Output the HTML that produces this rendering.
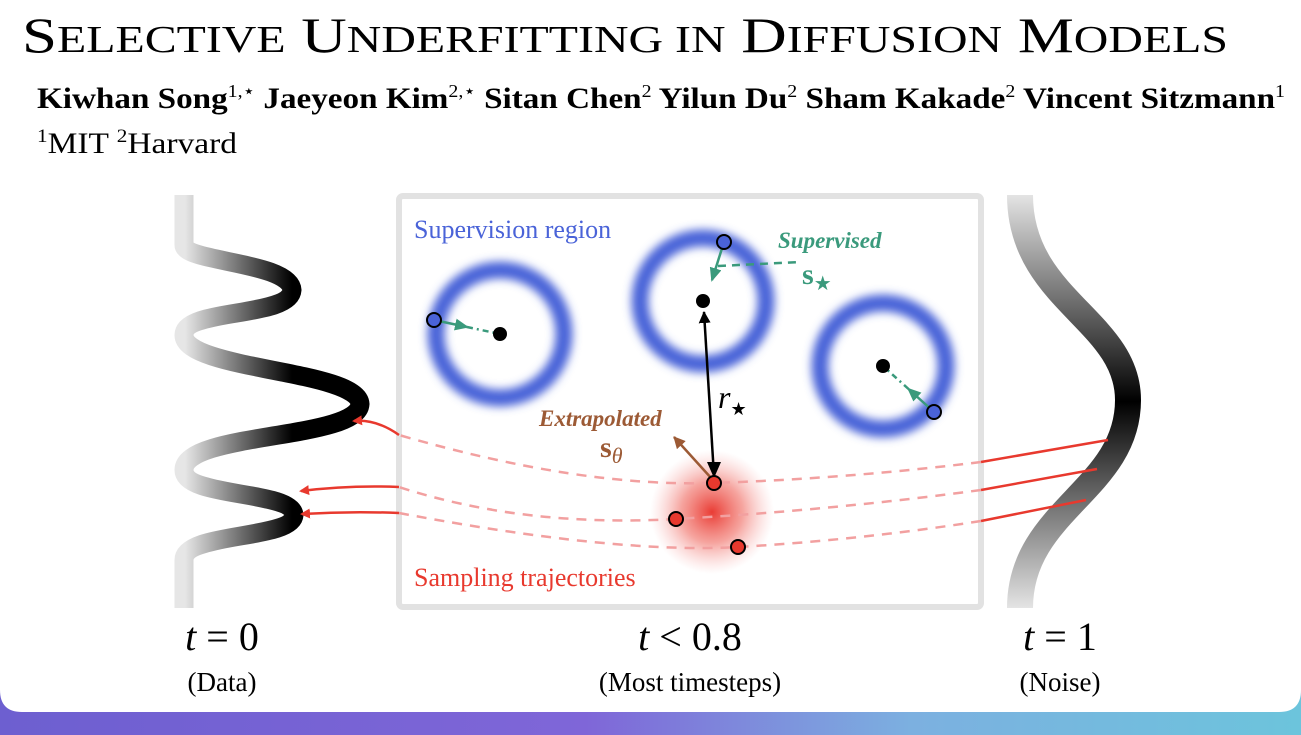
<!DOCTYPE html>
<html><head><meta charset="utf-8"><style>
html,body{margin:0;padding:0;width:1301px;height:735px;overflow:hidden;background:linear-gradient(90deg,#6d5fd0 0%,#7f66d8 45%,#7cb0e0 70%,#6cc4dc 100%);}
svg{display:block}
text{font-family:"Liberation Serif",serif}
</style></head><body>
<svg width="1301" height="735" viewBox="0 0 1301 735">
<defs>
 <filter id="blur" x="-30%" y="-30%" width="160%" height="160%"><feGaussianBlur stdDeviation="4.5"/></filter>
 <radialGradient id="redglow"><stop offset="0" stop-color="#e8322a" stop-opacity="0.95"/><stop offset="0.5" stop-color="#ee5a50" stop-opacity="0.55"/><stop offset="1" stop-color="#f6a0a0" stop-opacity="0"/></radialGradient>
 <linearGradient id="lgL" gradientUnits="userSpaceOnUse" x1="185" y1="0" x2="292" y2="0"><stop offset="0" stop-color="#e6e6e6"/><stop offset="1" stop-color="#000"/></linearGradient>
 <linearGradient id="lgR" gradientUnits="userSpaceOnUse" x1="0" y1="195" x2="0" y2="608"><stop offset="0" stop-color="#e4e4e4"/><stop offset="0.5" stop-color="#000"/><stop offset="1" stop-color="#e4e4e4"/></linearGradient>
 <marker id="aRed" markerWidth="10" markerHeight="10" refX="8" refY="5" orient="auto" markerUnits="userSpaceOnUse"><path d="M0,0 L10,5 L0,10 Z" fill="#e8392e"/></marker>
 <marker id="aGreen" markerWidth="14" markerHeight="12" refX="12" refY="6" orient="auto" markerUnits="userSpaceOnUse"><path d="M0,0 L14,6 L0,12 Z" fill="#3a9a7c"/></marker>
 <marker id="aBlack" markerWidth="12" markerHeight="12" refX="11" refY="6" orient="auto" markerUnits="userSpaceOnUse"><path d="M0,0 L12,6 L0,12 Z" fill="#000"/></marker>
 <marker id="aBrown" markerWidth="12" markerHeight="12" refX="11" refY="6" orient="auto" markerUnits="userSpaceOnUse"><path d="M0,0 L12,6 L0,12 Z" fill="#9c5a35"/></marker>
</defs>
<path d="M0,0 H1301 V690 Q1301,712 1279,712 H22 Q0,712 0,690 Z" fill="#fff"/>

<text x="22" y="52" font-size="50" textLength="1206" lengthAdjust="spacingAndGlyphs">S<tspan font-size="38">ELECTIVE</tspan> U<tspan font-size="38">NDERFITTING IN</tspan> D<tspan font-size="38">IFFUSION</tspan> M<tspan font-size="38">ODELS</tspan></text>
<text x="37" y="108" font-size="30" font-weight="bold" textLength="1248" lengthAdjust="spacingAndGlyphs">Kiwhan Song<tspan font-size="18" dy="-11" font-weight="normal">1,⋆</tspan><tspan dy="11"> Jaeyeon Kim</tspan><tspan font-size="18" dy="-11" font-weight="normal">2,⋆</tspan><tspan dy="11"> Sitan Chen</tspan><tspan font-size="18" dy="-11" font-weight="normal">2</tspan><tspan dy="11"> Yilun Du</tspan><tspan font-size="18" dy="-11" font-weight="normal">2</tspan><tspan dy="11"> Sham Kakade</tspan><tspan font-size="18" dy="-11" font-weight="normal">2</tspan><tspan dy="11"> Vincent Sitzmann</tspan><tspan font-size="18" dy="-11" font-weight="normal">1</tspan></text>
<text x="37" y="153" font-size="30" textLength="200" lengthAdjust="spacingAndGlyphs"><tspan font-size="19" dy="-11">1</tspan><tspan dy="11">MIT </tspan><tspan font-size="19" dy="-11">2</tspan><tspan dy="11">Harvard</tspan></text>

<path d="M184,195 V245 C184,262 290,262 292,290 C290,318 184,308 184,335 C184,370 358,370 360,404 C358,440 184,432 184,470 C184,498 292,490 294,515 C292,540 184,532 184,560 V608" fill="none" stroke="url(#lgL)" stroke-width="19"/>
<path d="M1020,195 C1020,300 1128,320 1128,400 C1128,490 1020,510 1020,608" fill="none" stroke="url(#lgR)" stroke-width="26"/>

<rect x="399" y="196" width="582" height="411" rx="4" fill="none" stroke="#e2e2e2" stroke-width="6"/>

<g id="rings"></g>
<circle cx="712" cy="512" r="62" fill="url(#redglow)"/>
<g id="traj"></g>
<g id="marks"></g>

<text x="414" y="238" font-size="26" fill="#4a63d8">Supervision region</text>
<text x="414" y="586" font-size="26" fill="#e8392e">Sampling trajectories</text>
<text x="778" y="248" font-size="23" font-weight="bold" font-style="italic" fill="#3a9a7c">Supervised</text>
<text x="802" y="284" font-size="30" font-weight="bold" fill="#3a9a7c">s<tspan font-size="20" dy="6" font-weight="normal">★</tspan></text>
<text x="539" y="426" font-size="23" font-weight="bold" font-style="italic" fill="#9c5a35">Extrapolated</text>
<text x="600" y="457" font-size="30" font-weight="bold" fill="#9c5a35">s<tspan font-size="22" dy="6" font-style="italic" font-weight="normal">θ</tspan></text>
<text x="718" y="408" font-size="32" font-style="italic">r<tspan font-size="18" dy="7" font-style="normal">★</tspan></text>

<text x="222" y="650" font-size="40" text-anchor="middle"><tspan font-style="italic">t</tspan> = 0</text>
<text x="222" y="691" font-size="27" text-anchor="middle">(Data)</text>
<text x="690" y="650" font-size="40" text-anchor="middle"><tspan font-style="italic">t</tspan> &lt; 0.8</text>
<text x="690" y="691" font-size="27" text-anchor="middle">(Most timesteps)</text>
<text x="1060" y="650" font-size="40" text-anchor="middle"><tspan font-style="italic">t</tspan> = 1</text>
<text x="1060" y="691" font-size="27" text-anchor="middle">(Noise)</text>

<script>
const NS='http://www.w3.org/2000/svg';
const ringCenters=[[500,334],[703,301],[883,366]];
const ringRadius=[64,63,63];
const supervisedPoints=[[434,320],[724,242],[934,412]];
const samplePoints=[[714,483],[676,519],[738,547]];
const noiseStarts=[[1108,440],[1097,469],[1086,500]];
const boxRight=[[981,462],[981,490],[981,521]];
const boxLeft=[[399,435],[399,487],[399,513]];
const dataTargets=[[354,421],[301,491],[302,514]];
function mk(tag,attrs,parent){const e=document.createElementNS(NS,tag);for(const k in attrs)e.setAttribute(k,attrs[k]);parent.appendChild(e);return e;}
const rings=document.getElementById('rings'),traj=document.getElementById('traj'),marks=document.getElementById('marks');
ringCenters.forEach((c,i)=>{
 const g=mk('circle',{cx:c[0],cy:c[1],r:ringRadius[i],fill:'none',stroke:'#4a63d8','stroke-width':17,filter:'url(#blur)'},rings);
 
 
});
samplePoints.forEach((p,i)=>{
 const s=noiseStarts[i],r=boxRight[i],b=boxLeft[i],t=dataTargets[i];
 const solid=mk('line',{x1:s[0],y1:s[1],x2:r[0],y2:r[1],stroke:'#e8392e','stroke-width':2.5},traj);
 
 
 const d=mk('path',{d:`M${r[0]},${r[1]} Q${(r[0]+p[0])/2},${(r[1]+p[1])/2+6} ${p[0]},${p[1]} T${b[0]},${b[1]}`,fill:'none',stroke:'#f2a0a0','stroke-width':2.5,'stroke-dasharray':'10 8'},traj);
 
 
 const a=mk('path',{d:`M${b[0]},${b[1]} Q${(b[0]+t[0])/2},${Math.min(b[1],t[1])-2} ${t[0]},${t[1]}`,fill:'none',stroke:'#e8392e','stroke-width':2.5,'marker-end':'url(#aRed)'},traj);
 
 
});
const ba=mk('line',{x1:714,y1:476,x2:704,y2:312,stroke:'#000','stroke-width':2.5,'marker-end':'url(#aBlack)'},marks);


const bh=mk('path',{d:'M707,462 L714,478 L721,462 Z',fill:'#000'},marks);


const br=mk('line',{x1:712,y1:479,x2:674,y2:437,stroke:'#9c5a35','stroke-width':2.5,'marker-end':'url(#aBrown)'},marks);


ringCenters.forEach((c,i)=>{
 const p=supervisedPoints[i];
 const mxp=p[0]+(c[0]-p[0])*0.5, myp=p[1]+(c[1]-p[1])*0.5;
 if(i!==1){
  const dash=mk('line',{x1:mxp,y1:myp,x2:c[0],y2:c[1],stroke:'#3a9a7c','stroke-width':2.5,'stroke-dasharray':'6 4 2 4'},marks);
  
  
 }
 let tx=mxp,ty=myp;
 if(i===1){tx=712;ty=280;}
 const ar=mk('line',{x1:p[0],y1:p[1],x2:tx,y2:ty,stroke:'#3a9a7c','stroke-width':2.5,'marker-end':'url(#aGreen)'},marks);
 
 
 const dot=mk('circle',{cx:c[0],cy:c[1],r:7,fill:'#000'},marks);
 
 
 const sp=mk('circle',{cx:p[0],cy:p[1],r:7,fill:'#4a63d8',stroke:'#000','stroke-width':2},marks);
 
 
});
const s2=mk('line',{x1:718,y1:266,x2:800,y2:262,stroke:'#3a9a7c','stroke-width':2.5,'stroke-dasharray':'8 6'},marks);


samplePoints.forEach(p=>{
 const c=mk('circle',{cx:p[0],cy:p[1],r:7,fill:'#e8392e',stroke:'#000','stroke-width':2},marks);
 
 
});
</script>
</svg>
</body></html>
